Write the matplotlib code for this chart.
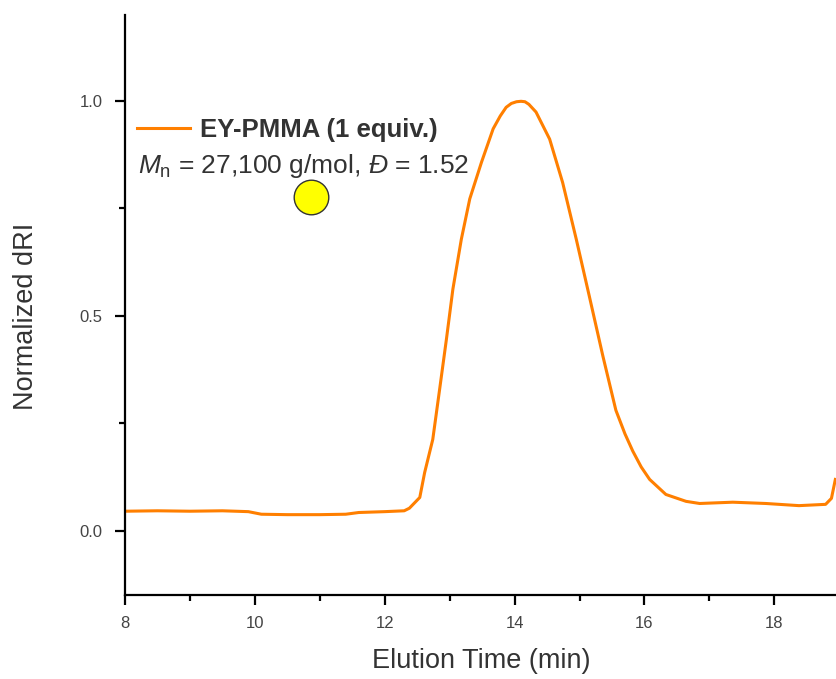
import matplotlib
matplotlib.use("Agg")
import matplotlib.pyplot as plt
from matplotlib.ticker import MultipleLocator

plt.rcParams["font.family"] = ["Liberation Sans", "DejaVu Sans"]
plt.rcParams["mathtext.fontset"] = "custom"
plt.rcParams["mathtext.rm"] = "Liberation Sans"
plt.rcParams["mathtext.it"] = "Liberation Sans:italic"

time_min = [8.0, 8.5, 9.0, 9.5, 9.9, 10.1, 10.5, 11.0, 11.4, 11.6, 12.0, 12.3,
            12.38, 12.54, 12.615, 12.74, 12.846, 12.95, 13.05, 13.18, 13.31,
            13.49, 13.67, 13.78, 13.87, 13.95, 14.03, 14.10, 14.16, 14.22,
            14.33, 14.54, 14.74, 14.95, 15.15, 15.36, 15.56, 15.70, 15.82,
            15.95, 16.08, 16.33, 16.64, 16.85, 17.36, 17.87, 18.38, 18.79,
            18.88, 18.94]
dri = [0.045, 0.046, 0.045, 0.046, 0.044, 0.038, 0.037, 0.037, 0.038, 0.042,
       0.044, 0.046, 0.052, 0.077, 0.135, 0.212, 0.329, 0.445, 0.562, 0.678,
       0.772, 0.857, 0.935, 0.965, 0.985, 0.994, 0.998, 0.999, 0.998, 0.992,
       0.974, 0.911, 0.810, 0.678, 0.546, 0.406, 0.280, 0.225, 0.185,
       0.148, 0.119, 0.084, 0.068, 0.063, 0.066, 0.063, 0.058, 0.061,
       0.075, 0.119]
series_label = "EY-PMMA (1 equiv.)"
info_text = r"$M_\mathrm{n}$ = 27,100 g/mol, $Đ$ = 1.52"
marker_xy = (10.87, 0.776)

fig = plt.figure(figsize=(8.36, 6.79), dpi=100)
ax = fig.add_axes([0.1495, 0.1237, 0.8505, 0.8543])

ax.plot(time_min, dri, color="#FF7F00", lw=2.2, label=series_label)
ax.scatter([marker_xy[0]], [marker_xy[1]], s=620, color="#FFFF00",
           edgecolor="#333333", linewidth=1.0, zorder=5)

ax.set_xlim(8, 18.95)
ax.set_ylim(-0.15, 1.2)
ax.xaxis.set_major_locator(MultipleLocator(2))
ax.xaxis.set_minor_locator(MultipleLocator(1))
ax.yaxis.set_minor_locator(MultipleLocator(0.25))
ax.set_yticks([0.0, 0.5, 1.0])
ax.set_yticklabels(["0.0", "0.5", "1.0"])

for s in ("top", "right"):
    ax.spines[s].set_visible(False)
for s in ("left", "bottom"):
    ax.spines[s].set_linewidth(1.6)
ax.tick_params(which="major", direction="out", length=7, width=1.6,
               labelsize=12, labelcolor="#444444")
ax.tick_params(which="minor", direction="out", length=4, width=1.6)
ax.tick_params(axis="x", which="major", pad=8)
ax.tick_params(axis="y", which="major", pad=9)

ax.set_xlabel("Elution Time (min)", fontsize=19.5, color="#333333", va="top")
ax.set_ylabel("Normalized dRI", fontsize=19.5, color="#333333")
ax.xaxis.set_label_coords(0.501, -0.092)
ax.yaxis.set_label_coords(-0.121, 0.481)

leg = ax.legend(loc="center left", bbox_to_anchor=(0.0175, 0.802), frameon=False,
                handlelength=2.06, handletextpad=0.39, borderaxespad=0,
                borderpad=0, prop={"size": 18.5, "weight": "bold"})
for t in leg.get_texts():
    t.set_color("#333333")
ax.text(0.018, 0.740, info_text, transform=ax.transAxes, fontsize=19,
        color="#333333", ha="left", va="center")

fig.savefig("out.png", dpi=100)
